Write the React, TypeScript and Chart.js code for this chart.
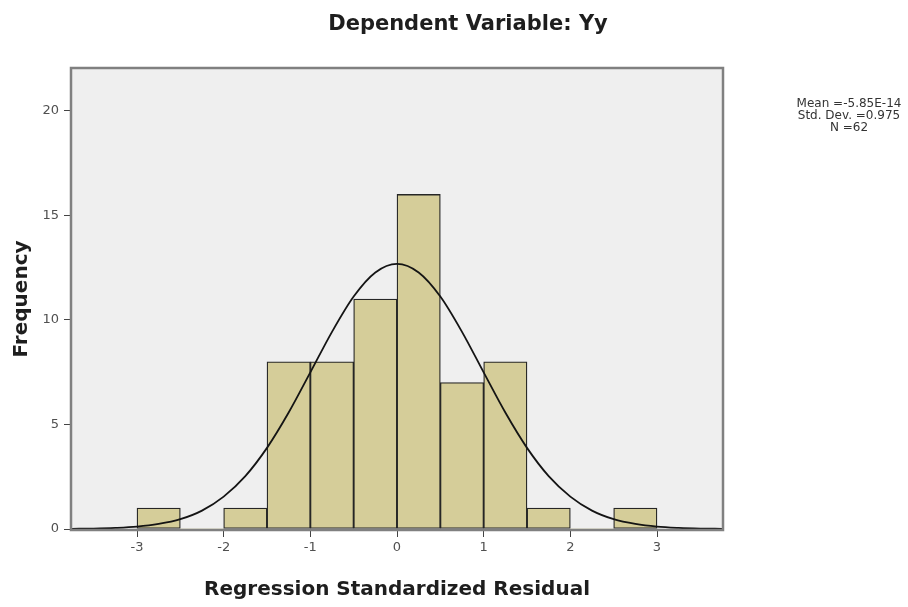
import React, { useEffect, useRef } from "react";
import { Chart, registerables } from "chart.js";

Chart.register(...registerables);

// Histogram bins (width 0.5) – centers and frequencies
const binCenters = [-2.75, -2.25, -1.75, -1.25, -0.75, -0.25, 0.25, 0.75, 1.25, 1.75, 2.25, 2.75];
const frequencies = [1, 0, 1, 8, 8, 11, 16, 7, 8, 1, 0, 1];

// Normal curve
const curveX = [
  -3.75, -3.5, -3.25, -3, -2.75, -2.5, -2.25, -2, -1.75, -1.5, -1.25, -1, -0.75, -0.5, -0.25,
  0,
  0.25, 0.5, 0.75, 1, 1.25, 1.5, 1.75, 2, 2.25, 2.5, 2.75, 3, 3.25, 3.5, 3.75,
];
const curveY = [
  0.01, 0.02, 0.05, 0.11, 0.24, 0.47, 0.88, 1.55, 2.53, 3.88, 5.57, 7.49, 9.43, 11.12, 12.27,
  12.68,
  12.27, 11.12, 9.43, 7.49, 5.57, 3.88, 2.53, 1.55, 0.88, 0.47, 0.24, 0.11, 0.05, 0.02, 0.01,
];

const xTickValues = [-3, -2, -1, 0, 1, 2, 3];
const yTickValues = [0, 5, 10, 15, 20];

const chartTitle = "Dependent Variable: Yy";
const xTitle = "Regression Standardized Residual";
const yTitle = "Frequency";
const statLines = ["Mean =-5.85E-14", "Std. Dev. =0.975", "N =62"];

const decorPlugin = {
  id: "decor",
  beforeDraw(chart: any) {
    const { ctx, chartArea: a } = chart;
    ctx.save();
    ctx.fillStyle = "#ffffff";
    ctx.fillRect(0, 0, chart.width, chart.height);
    ctx.fillStyle = "#efefef";
    ctx.fillRect(a.left, a.top, a.right - a.left, a.bottom - a.top);
    ctx.restore();
  },
  afterDraw(chart: any) {
    const { ctx, chartArea: a } = chart;
    ctx.save();
    ctx.strokeStyle = "#808080";
    ctx.lineWidth = 2.5;
    ctx.strokeRect(a.left - 1, a.top - 1, a.right - a.left + 2, a.bottom - a.top + 2);

    ctx.fillStyle = "#1e1e1e";
    ctx.font = "bold 21px 'DejaVu Sans'";
    ctx.textAlign = "center";
    ctx.textBaseline = "middle";
    ctx.fillText(chartTitle, 468, 25);

    ctx.fillStyle = "#333333";
    ctx.font = "12px 'DejaVu Sans'";
    statLines.forEach((s, i) => ctx.fillText(s, 849, 104 + i * 12));
    ctx.restore();
  },
};

export default function App() {
  const ref = useRef<HTMLCanvasElement>(null);

  useEffect(() => {
    if (!ref.current) return;
    const chart = new Chart(ref.current, {
      type: "bar",
      data: {
        datasets: [
          {
            type: "line",
            data: curveX.map((x, i) => ({ x, y: curveY[i] })),
            borderColor: "#141414",
            borderWidth: 1.8,
            pointRadius: 0,
            cubicInterpolationMode: "monotone",
            fill: false,
            order: 0,
          } as any,
          {
            type: "bar",
            data: binCenters.map((x, i) => ({ x, y: frequencies[i] })),
            backgroundColor: "#d5cd99",
            borderColor: "#262626",
            borderWidth: (c: any) => (c.raw && c.raw.y ? 1.3 : 0),
            borderSkipped: false,
            barPercentage: 1,
            categoryPercentage: 1,
            order: 1,
          } as any,
        ],
      },
      options: {
        animation: false,
        responsive: false,
        devicePixelRatio: 1,
        layout: { padding: { top: 69, right: 186, left: 0, bottom: 0 } },
        plugins: {
          legend: { display: false },
          tooltip: { enabled: false },
          title: { display: false },
        },
        scales: {
          x: {
            type: "linear",
            min: -3.75,
            max: 3.75,
            offset: false,
            afterFit: (s: any) => {
              s.height = 78;
            },
            afterBuildTicks: (s: any) => {
              s.ticks = xTickValues.map((v) => ({ value: v }));
            },
            grid: {
              display: true,
              offset: false,
              drawOnChartArea: false,
              drawTicks: true,
              tickLength: 8,
              color: "#444444",
            },
            border: { display: false },
            ticks: {
              padding: 3,
              color: "#505050",
              font: { family: "'DejaVu Sans'", size: 13 },
              maxRotation: 0,
              callback: (v: any) => String(v),
            },
            title: {
              display: true,
              text: xTitle,
              color: "#1e1e1e",
              font: { family: "'DejaVu Sans'", size: 20, weight: "bold" },
              padding: { top: 0, bottom: 5 },
            },
          },
          y: {
            type: "linear",
            min: 0,
            max: 22,
            afterFit: (s: any) => {
              s.width = 72;
            },
            afterBuildTicks: (s: any) => {
              s.ticks = yTickValues.map((v) => ({ value: v }));
            },
            grid: {
              display: true,
              drawOnChartArea: false,
              drawTicks: true,
              tickLength: 8,
              color: "#444444",
            },
            border: { display: false },
            ticks: {
              padding: 5,
              color: "#505050",
              font: { family: "'DejaVu Sans'", size: 13 },
            },
            title: {
              display: true,
              text: yTitle,
              color: "#1e1e1e",
              font: { family: "'DejaVu Sans'", size: 20, weight: "bold" },
              padding: { top: 10, bottom: 0 },
            },
          },
        },
      } as any,
      plugins: [decorPlugin],
    });
    return () => chart.destroy();
  }, []);

  return (
    <div style={{ position: "fixed", left: 0, top: 0, width: 908, height: 607, background: "#fff" }}>
      <canvas ref={ref} width={908} height={607} style={{ width: 908, height: 607, display: "block" }} />
    </div>
  );
}
